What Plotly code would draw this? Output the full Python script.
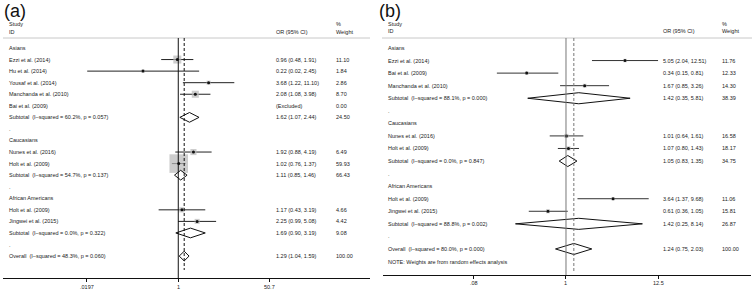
import math
import plotly.graph_objects as go

W, H = 755, 292
groups = ["Asians", "Caucasians", "African Americans"]

# ---------------- Panel (a) data ----------------
a_study = ["Ezzi et al. (2014)", "Hu et al. (2014)", "Yousaf et al. (2014)",
           "Manchanda et al. (2010)", "Bai et al. (2009)",
           "Nunes et al. (2016)", "Holt et al. (2009)",
           "Holt et al. (2009)", "Jingwei et al. (2015)"]
a_group = [0, 0, 0, 0, 0, 1, 1, 2, 2]
a_or = [0.96, 0.22, 3.68, 2.08, None, 1.92, 1.02, 1.17, 2.25]
a_lo = [0.48, 0.02, 1.22, 1.08, None, 0.88, 0.76, 0.43, 0.99]
a_hi = [1.91, 2.45, 11.10, 3.98, None, 4.19, 1.37, 3.19, 5.08]
a_w = [11.10, 1.84, 2.86, 8.70, 0.00, 6.49, 59.93, 4.66, 4.42]
a_sub_i2 = ["60.2%", "54.7%", "0.0%"]
a_sub_p = ["0.057", "0.137", "0.322"]
a_sub_or = [1.62, 1.11, 1.69]
a_sub_lo = [1.07, 0.85, 0.90]
a_sub_hi = [2.44, 1.46, 3.19]
a_sub_w = [24.50, 66.43, 9.08]
a_all = [1.29, 1.04, 1.59, "48.3%", "0.060", 100.00]
a_ticks = [0.0197, 1, 50.7]
a_ticktext = [".0197", "1", "50.7"]

# ---------------- Panel (b) data ----------------
b_study = ["Ezzi et al. (2014)", "Bai et al. (2009)", "Manchanda et al. (2010)",
           "Nunes et al. (2016)", "Holt et al. (2009)",
           "Holt et al. (2009)", "Jingwei et al. (2015)"]
b_group = [0, 0, 0, 1, 1, 2, 2]
b_or = [5.05, 0.34, 1.67, 1.01, 1.07, 3.64, 0.61]
b_lo = [2.04, 0.15, 0.85, 0.64, 0.80, 1.37, 0.36]
b_hi = [12.51, 0.81, 3.26, 1.61, 1.43, 9.68, 1.05]
b_w = [11.76, 12.33, 14.30, 16.58, 18.17, 11.06, 15.81]
b_sub_i2 = ["88.1%", "0.0%", "88.8%"]
b_sub_p = ["0.000", "0.847", "0.002"]
b_sub_or = [1.42, 1.05, 1.42]
b_sub_lo = [0.35, 0.83, 0.25]
b_sub_hi = [5.81, 1.35, 8.14]
b_sub_w = [38.39, 34.75, 26.87]
b_all = [1.24, 0.75, 2.03, "80.0%", "0.000", 100.00]
b_ticks = [0.08, 1, 12.5]
b_ticktext = [".08", "1", "12.5"]
b_note = "NOTE: Weights are from random effects analysis"


def build_rows(study, group, orr, lo, hi, w, si2, sp, sor, slo, shi, sw, allv, note=None):
    rows = []
    for g, gname in enumerate(groups):
        rows.append(dict(kind="head", label=gname))
        for k in range(len(study)):
            if group[k] == g:
                rows.append(dict(kind="study", label=study[k], o=orr[k], lo=lo[k], hi=hi[k], w=w[k]))
        rows.append(dict(kind="sub", label=f"Subtotal  (I\u2013squared = {si2[g]}, p = {sp[g]})",
                         o=sor[g], lo=slo[g], hi=shi[g], w=sw[g]))
        rows.append(dict(kind="dot", label="."))
    rows.append(dict(kind="sub", label=f"Overall  (I\u2013squared = {allv[3]}, p = {allv[4]})",
                     o=allv[0], lo=allv[1], hi=allv[2], w=allv[5]))
    if note:
        rows.append(dict(kind="note", label=note))
    return rows


FONT = "Liberation Sans, Arial, sans-serif"
FS = 5.5
TXT = "#222222"
fig = go.Figure()
annotations = []
shapes = []


def panel(rows, xa, ya, cfg, ticks, ticktext):
    xr = "x" if xa == "xaxis" else "x2"
    yr = "y" if ya == "yaxis" else "y2"
    # CI lines
    cx, cy = [], []
    for i, r in enumerate(rows):
        if r["kind"] == "study" and r["o"] is not None:
            cx += [r["lo"], r["hi"], None]
            cy += [i, i, None]
    fig.add_trace(go.Scatter(x=cx, y=cy, mode="lines", xaxis=xr, yaxis=yr,
                             line=dict(color=cfg["ci"], width=1), hoverinfo="skip", showlegend=False))
    # weight squares
    sx, sy, ss = [], [], []
    for i, r in enumerate(rows):
        if r["kind"] == "study" and r["o"] is not None:
            sx.append(r["o"]); sy.append(i); ss.append(cfg["sq"] * r["w"] ** 0.5)
    fig.add_trace(go.Scatter(x=sx, y=sy, mode="markers", xaxis=xr, yaxis=yr,
                             marker=dict(symbol="square", size=ss, color="#b8b8b8", line=dict(width=0)),
                             hoverinfo="skip", showlegend=False))
    fig.add_trace(go.Scatter(x=sx, y=sy, mode="markers", xaxis=xr, yaxis=yr,
                             marker=dict(symbol="circle", size=3, color="#111111", line=dict(width=0)),
                             hoverinfo="skip", showlegend=False))
    # diamonds
    dx, dy = [], []
    hh = cfg["dh"]
    for i, r in enumerate(rows):
        if r["kind"] == "sub":
            dx += [r["lo"], r["o"], r["hi"], r["o"], r["lo"], None]
            dy += [i, i - hh, i, i + hh, i, None]
    fig.add_trace(go.Scatter(x=dx, y=dy, mode="lines", fill="toself", fillcolor="white",
                             xaxis=xr, yaxis=yr, line=dict(color="#111111", width=1),
                             hoverinfo="skip", showlegend=False))
    # texts
    def txt(x, y, t, yref=yr, xref="paper", anchor="left"):
        annotations.append(dict(x=x, xref=xref, y=y, yref=yref, text=t, showarrow=False,
                                xanchor=anchor, yanchor="middle", borderpad=0,
                                font=dict(family=FONT, size=FS, color=TXT)))
    for i, r in enumerate(rows):
        txt(cfg["lx"] / W, i, r["label"])
        if r["kind"] in ("study", "sub"):
            ortxt = "(Excluded)" if r["o"] is None else f"{r['o']:.2f} ({r['lo']:.2f}, {r['hi']:.2f})"
            txt(cfg["ox"] / W, i, ortxt)
            txt(cfg["wx"] / W, i, f"{r['w']:.2f}")
    hs = cfg["hdr"]
    for t, xx, yy in [("Study", cfg["lx"], hs[0]), ("ID", cfg["lx"], hs[1]),
                      ("OR (95% CI)", cfg["ox"], hs[1]), ("%", cfg["wx"], hs[0]),
                      ("Weight", cfg["wx"], hs[1])]:
        txt(xx / W, yy, t)
    # tick labels placed through the log axis scale (annotations use log10 on log axes)
    for tv, tt in zip(ticks, ticktext):
        txt(math.log10(tv), (H - cfg["tly"]) / H, tt, yref="paper", xref=xr, anchor="center")
    annotations.append(dict(x=cfg["tag"] / W, xref="paper", y=1, yref="paper", text=cfg["tagtxt"],
                            showarrow=False, xanchor="left", yanchor="top", borderpad=0,
                            font=dict(family="Liberation Sans, Arial", size=18, color="#111111")))
    # header rule
    shapes.append(dict(type="line", xref="paper", yref=yr, x0=cfg["hl"][0] / W, x1=cfg["hl"][1] / W,
                       y0=cfg["hly"], y1=cfg["hly"], line=dict(color="#c8c8c8", width=1)))
    # null line
    shapes.append(dict(type="line", xref=xr, yref=yr + " domain", x0=1, x1=1, y0=0,
                       y1=cfg["topfrac"], line=dict(color=cfg["null"], width=1)))
    # overall dashed line
    ov = [r for r in rows if r["label"].startswith("Overall")][0]["o"]
    shapes.append(dict(type="line", xref=xr, yref=yr, x0=ov, x1=ov, y0=cfg["hly"], y1=cfg["dend"],
                       line=dict(color=cfg["null"], width=1, dash="3px,2px")))


rows_a = build_rows(a_study, a_group, a_or, a_lo, a_hi, a_w, a_sub_i2, a_sub_p,
                    a_sub_or, a_sub_lo, a_sub_hi, a_sub_w, a_all)
rows_b = build_rows(b_study, b_group, b_or, b_lo, b_hi, b_w, b_sub_i2, b_sub_p,
                    b_sub_or, b_sub_lo, b_sub_hi, b_sub_w, b_all, b_note)

# pixel layout helpers
a_r0, a_step, a_axis = 48.0, 11.56, 278.0
b_r0, b_step, b_axis = 48.0, 12.56, 275.0
def rowof(p, r0, st):
    return (p - r0) / st

cfg_a = dict(ci="#222222", null="#111111", sq=2.4, dh=0.42, lx=8, ox=275, wx=335,
             hdr=[rowof(24, a_r0, a_step), rowof(32, a_r0, a_step)], tag=3, tagtxt="(a)",
             hl=(3, 370), hly=rowof(38, a_r0, a_step), topfrac=(a_axis - 38) / a_axis,
             dend=rowof(270, a_r0, a_step), tly=287)
cfg_b = dict(ci="#333333", null="#777777", sq=1.0, dh=0.44, lx=387, ox=662, wx=721,
             hdr=[rowof(24, b_r0, b_step), rowof(31, b_r0, b_step)], tag=378, tagtxt="(b)",
             hl=(382, 752), hly=rowof(38, b_r0, b_step), topfrac=(b_axis - 38) / b_axis,
             dend=rowof(273, b_r0, b_step), tly=283)

panel(rows_a, "xaxis", "yaxis", cfg_a, a_ticks, a_ticktext)
panel(rows_b, "xaxis2", "yaxis2", cfg_b, b_ticks, b_ticktext)

axis_common = dict(type="log", showgrid=False, zeroline=False, showline=True, linecolor="#111111",
                   linewidth=1, ticks="outside", ticklen=3, tickcolor="#111111", tickwidth=1,
                   showticklabels=False, fixedrange=True)

fig.update_layout(
    width=W, height=H, margin=dict(l=0, r=0, t=0, b=0),
    paper_bgcolor="white", plot_bgcolor="white",
    xaxis=dict(domain=[3 / W, 370 / W], range=[-3.27, 3.577], anchor="y",
               tickvals=a_ticks, **axis_common),
    yaxis=dict(domain=[(H - a_axis) / H, 1], range=[rowof(a_axis, a_r0, a_step), rowof(0, a_r0, a_step)],
               visible=False, anchor="x", fixedrange=True),
    xaxis2=dict(domain=[383 / W, 751 / W], range=[-2.181, 2.205], anchor="y2",
                tickvals=b_ticks, **axis_common),
    yaxis2=dict(domain=[(H - b_axis) / H, 1], range=[rowof(b_axis, b_r0, b_step), rowof(0, b_r0, b_step)],
                visible=False, anchor="x2", fixedrange=True),
    annotations=annotations, shapes=shapes, showlegend=False,
)

fig.write_html("out.html", config={"displayModeBar": False},
               post_script="document.body.style.margin='0';document.body.style.overflow='hidden';")
